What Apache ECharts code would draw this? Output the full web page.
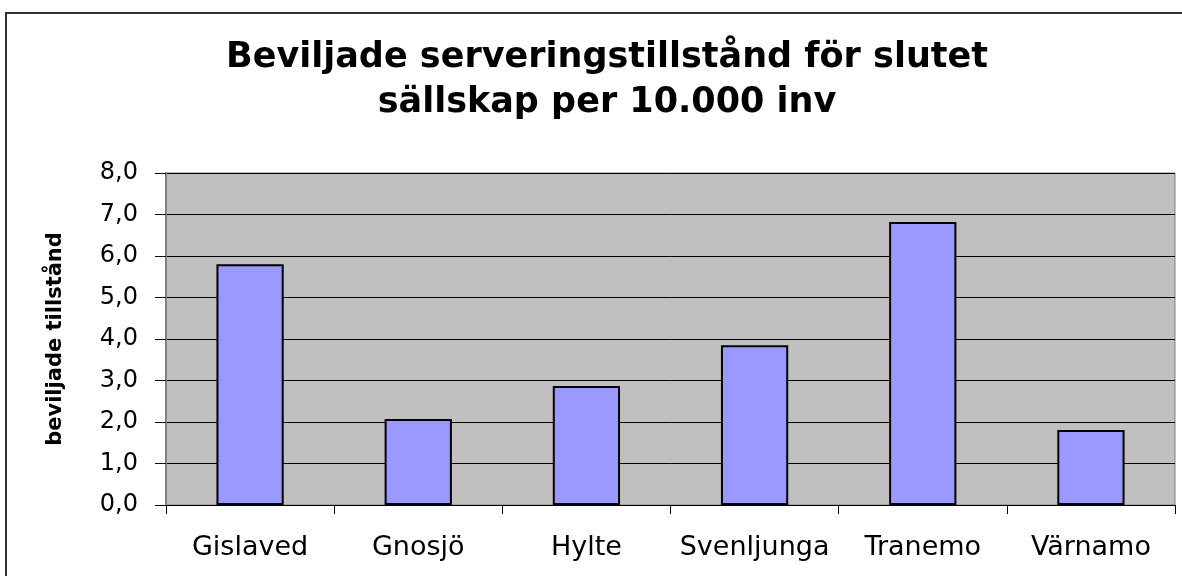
<!DOCTYPE html>
<html>
<head>
<meta charset="utf-8">
<script src="https://cdn.jsdelivr.net/npm/echarts@6/dist/echarts.min.js"></script>
<style>
  html, body { margin: 0; padding: 0; background: #fff; }
  #main { width: 1182px; height: 576px; }
</style>
</head>
<body>
<div id="main"></div>
<script>
    // kommuner och värden
    var kommuner = ['Gislaved', 'Gnosjö', 'Hylte', 'Svenljunga', 'Tranemo', 'Värnamo'];
    var tillstand = [5.8, 2.07, 2.87, 3.85, 6.82, 1.81];
    var yMin = 0, yMax = 8, yStep = 1;

    var myChart = echarts.init(document.getElementById('main'));
    myChart.setOption({
        animation: false,
        backgroundColor: '#fff',
        textStyle: { fontFamily: 'DejaVu Sans' },
        title: {
            text: 'Beviljade serveringstillstånd för slutet\nsällskap per 10.000 inv',
            left: 602,
            textAlign: 'center',
            top: 30,
            textStyle: {
                fontFamily: 'DejaVu Sans',
                fontSize: 35,
                fontWeight: 'bold',
                color: '#000',
                lineHeight: 45
            }
        },
        // ram runt diagrammet
        graphic: [{
            type: 'rect',
            shape: { x: 6, y: 13, width: 1220, height: 620 },
            style: { fill: 'none', stroke: '#333', lineWidth: 2 },
            silent: true
        }],
        grid: {
            left: 166, right: 7, top: 173, bottom: 71,
            show: true,
            backgroundColor: '#C0C0C0',
            borderColor: '#808080',
            borderWidth: 1
        },
        xAxis: {
            type: 'category',
            data: kommuner,
            axisLine: { lineStyle: { color: '#000', width: 1 } },
            axisTick: { show: true, length: 9, interval: 0, lineStyle: { color: '#000' } },
            axisLabel: { color: '#000', fontSize: 27, margin: 29, interval: 0, fontFamily: 'DejaVu Sans' }
        },
        yAxis: {
            type: 'value',
            min: yMin, max: yMax, interval: yStep,
            name: 'beviljade tillstånd',
            nameLocation: 'middle',
            nameGap: 100,
            nameTextStyle: { fontFamily: 'DejaVu Sans', fontSize: 21, fontWeight: 'bold', color: '#000' },
            axisLine: { show: true, lineStyle: { color: '#808080', width: 2 } },
            axisTick: { show: true, length: 11, lineStyle: { color: '#000' } },
            axisLabel: {
                color: '#000', fontSize: 24, margin: 28, fontFamily: 'DejaVu Sans',
                formatter: function (v) { return v.toFixed(1).replace('.', ','); }
            },
            splitLine: { show: true, lineStyle: { color: '#000', width: 1 } }
        },
        series: [{
            type: 'bar',
            data: tillstand,
            barWidth: '40%',
            itemStyle: { color: '#9999FF', borderColor: '#000', borderWidth: 2 }
        }]
    });
</script>
</body>
</html>
